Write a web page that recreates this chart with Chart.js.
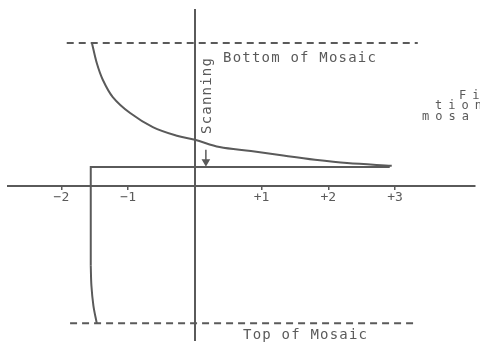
<!DOCTYPE html>
<html>
<head>
<meta charset="utf-8">
<script src="https://cdn.jsdelivr.net/npm/chart.js@4/dist/chart.umd.min.js"></script>
<style>
    body { margin: 0; background: #fff; }
    #wrap { width: 480px; height: 346px; position: relative; }
</style>
</head>
<body>
<div id="wrap"><canvas id="scanChart"></canvas></div>
<script>
// signal curve while the beam scans down the mosaic (x: volts, y: position)
const curveX = [-1.54, -1.47, -1.38, -1.23, -0.97, -0.63, -0.27, 0, 0.37, 0.84, 1.27, 1.8, 2.28, 2.95];
const curveY = [2.13, 1.84, 1.59, 1.33, 1.09, 0.88, 0.75, 0.69, 0.58, 0.52, 0.46, 0.39, 0.34, 0.30];

// flat level and the return trace at the left
const stepX = [-1.56, -1.56, 2.92];
const stepY = [-1.2, 0.28, 0.28];
const returnX = [-1.56, -1.55, -1.52, -1.47];
const returnY = [-1.2, -1.5, -1.8, -2.06];

// mosaic edges
const bottomEdgeX = [-1.92, 3.34];
const bottomEdgeY = [2.14, 2.14];
const topEdgeX = [-1.87, 3.34];
const topEdgeY = [-2.06, -2.06];

// scanning direction arrow
const arrowX = [0.165, 0.165];
const arrowY = [0.54, 0.36];

const tickValues = [-2, -1, 0, 1, 2, 3];
const tickLabels = ['\u22122', '\u22121', '', '+1', '+2', '+3'];

const ink = '#5a5a5a';
const mono = "'DejaVu Sans Mono', monospace";

function points(xs, ys) {
    return xs.map((x, i) => ({x: x, y: ys[i]}));
}

function lineSet(xs, ys, extra) {
    return Object.assign({
        data: points(xs, ys),
        showLine: true,
        borderColor: ink,
        borderWidth: 2,
        pointRadius: 0,
        fill: false
    }, extra || {});
}

const textPlugin = {
    id: 'drawingText',
    afterDraw(chart) {
        const ctx = chart.ctx;
        ctx.save();
        ctx.fillStyle = ink;
        ctx.textBaseline = 'alphabetic';
        ctx.textAlign = 'left';

        ctx.font = '14px ' + mono;
        ctx.letterSpacing = '1.2px';
        ctx.fillText('Bottom of Mosaic', 223, 62);
        ctx.fillText('Top of Mosaic', 243, 339);

        ctx.save();
        ctx.translate(211, 134);
        ctx.rotate(-Math.PI / 2);
        ctx.fillText('Scanning', 0, 0);
        ctx.restore();

        // caption on the right, cut off by the edge
        ctx.font = '12px ' + mono;
        ctx.letterSpacing = '6px';
        ctx.fillText('Fi', 459, 99);
        ctx.fillText('tion', 435, 109);
        ctx.fillText('mosa', 422, 120);
        ctx.restore();
    }
};

new Chart(document.getElementById('scanChart'), {
    type: 'scatter',
    data: {
        datasets: [
            lineSet(curveX, curveY, {tension: 0.35}),
            lineSet(stepX, stepY),
            lineSet(returnX, returnY, {tension: 0.35}),
            lineSet(bottomEdgeX, bottomEdgeY, {borderDash: [7, 5]}),
            lineSet(topEdgeX, topEdgeY, {borderDash: [7, 5]}),
            lineSet(arrowX, arrowY, {
                borderWidth: 1.5,
                pointRadius: [0, 3.5],
                pointStyle: 'triangle',
                rotation: 180,
                pointBackgroundColor: ink,
                pointBorderColor: ink
            })
        ]
    },
    options: {
        responsive: true,
        maintainAspectRatio: false,
        animation: false,
        layout: {padding: {left: 8, top: 10, right: 0, bottom: 0}},
        plugins: {legend: {display: false}, tooltip: {enabled: false}},
        scales: {
            x: {
                type: 'linear',
                min: -2.8,
                max: 4.19,
                position: {y: 0},
                afterBuildTicks: axis => {
                    axis.ticks = tickValues.map(v => ({value: v}));
                },
                border: {display: true, color: ink, width: 2},
                grid: {drawOnChartArea: false, drawTicks: true, tickLength: 3, color: ink, lineWidth: 1.5},
                ticks: {
                    padding: 1,
                    color: ink,
                    font: {family: mono, size: 13},
                    maxRotation: 0,
                    autoSkip: false,
                    callback: (value) => tickLabels[tickValues.indexOf(value)]
                }
            },
            y: {
                type: 'linear',
                min: -2.32,
                max: 2.635,
                position: {x: 0},
                border: {display: true, color: ink, width: 2},
                grid: {display: false},
                ticks: {display: false}
            }
        }
    },
    plugins: [textPlugin]
});
</script>
</body>
</html>
